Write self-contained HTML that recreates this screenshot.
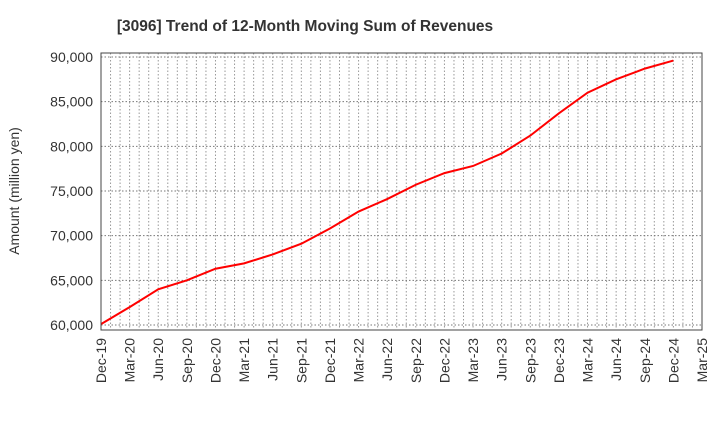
<!DOCTYPE html>
<html><head><meta charset="utf-8"><style>
body{margin:0;background:#fff;font-family:"Liberation Sans",sans-serif;}
</style></head><body>
<svg id="chart" width="720" height="440" xmlns="http://www.w3.org/2000/svg">
<text x="305" y="31" text-anchor="middle" font-size="15.5" font-weight="bold" fill="#333">[3096]  Trend of 12-Month Moving Sum of Revenues</text>
<text transform="translate(19,191) rotate(-90)" text-anchor="middle" font-size="14" fill="#333">Amount (million yen)</text>
<g id="grid"></g><g id="yticks"></g><g id="xticks"></g><g id="series"></g>
<rect x="101" y="53" width="601" height="277" fill="none" stroke="#444" stroke-width="1"/>
</svg>
<script>
const categories=["Dec-19","Mar-20","Jun-20","Sep-20","Dec-20","Mar-21","Jun-21","Sep-21","Dec-21","Mar-22","Jun-22","Sep-22","Dec-22","Mar-23","Jun-23","Sep-23","Dec-23","Mar-24","Jun-24","Sep-24","Dec-24"];
const revenues=[60100,62000,64000,65000,66300,66900,67900,69100,70800,72700,74100,75700,77000,77800,79200,81200,83700,86000,87500,88700,89600];
const xTickLabels=["Dec-19","Mar-20","Jun-20","Sep-20","Dec-20","Mar-21","Jun-21","Sep-21","Dec-21","Mar-22","Jun-22","Sep-22","Dec-22","Mar-23","Jun-23","Sep-23","Dec-23","Mar-24","Jun-24","Sep-24","Dec-24","Mar-25"];
const yTicks=[60000,65000,70000,75000,80000,85000,90000];
const NS="http://www.w3.org/2000/svg";
const L=101,R=702,T=53,B=330;
const nQ=xTickLabels.length-1;
function xQ(i){return L+(R-L)*i/nQ;}
function xM(m){return L+(R-L)*m/(nQ*3);}
function y(v){return 325-(v-60000)/30000*268;}
function mk(tag,attrs,parent){const e=document.createElementNS(NS,tag);for(const k in attrs)e.setAttribute(k,attrs[k]);parent.appendChild(e);return e;}
const grid=document.getElementById('grid');
for(let m=1;m<nQ*3;m++){const l=mk('line',{x1:xM(m),x2:xM(m),y1:T,y2:B,stroke:'#999','stroke-dasharray':'1.5,2','stroke-width':1},grid);

}
yTicks.forEach(v=>{const l=mk('line',{x1:L,x2:R,y1:y(v),y2:y(v),stroke:'#777','stroke-dasharray':'1.5,2','stroke-width':1},grid);

});
const yt=document.getElementById('yticks');
yTicks.forEach(v=>{const t=mk('text',{x:93,y:y(v)+5,'text-anchor':'end','font-size':14,fill:'#333'},yt);t.textContent=v.toLocaleString('en-US');

});
const xt=document.getElementById('xticks');
xTickLabels.forEach((s,i)=>{const x=xQ(i);const t=mk('text',{transform:`translate(${x+5},338) rotate(-90)`,'text-anchor':'end','font-size':14,fill:'#333'},xt);t.textContent=s;

});
const pts=revenues.map((v,i)=>xQ(i)+','+y(v)).join(' ');
const pl=mk('polyline',{points:pts,fill:'none',stroke:'#ff0000','stroke-width':2},document.getElementById('series'));


</script>
</body></html>
